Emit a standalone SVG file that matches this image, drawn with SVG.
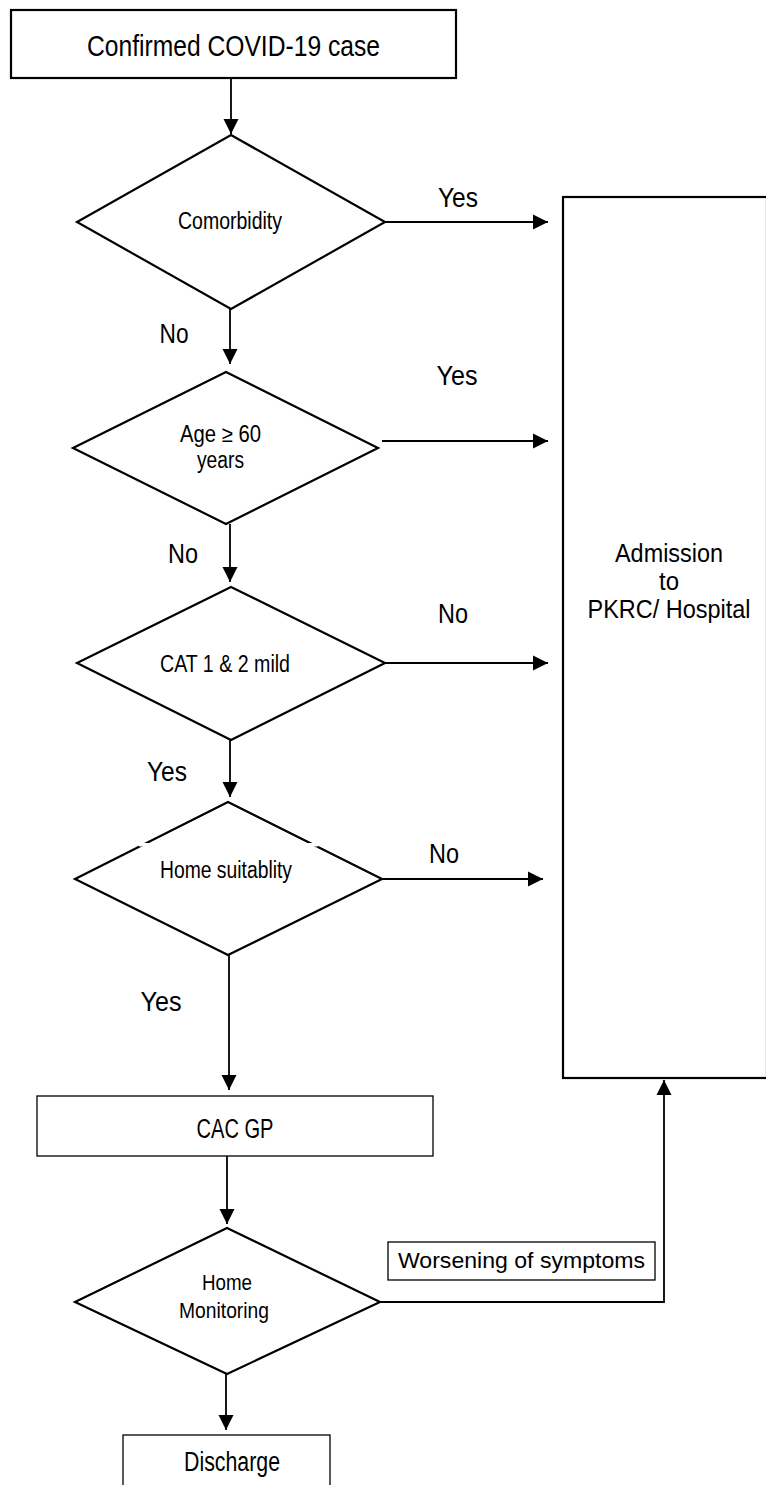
<svg xmlns="http://www.w3.org/2000/svg" width="766" height="1485" viewBox="0 0 766 1485">
  <style>
    .bg { fill: #ffffff; }
    .box { fill: #ffffff; stroke: #000000; stroke-width: 2.2; }
    .thin { fill: #ffffff; stroke: #000000; stroke-width: 1.3; }
    .dia { fill: #ffffff; stroke: #000000; stroke-width: 2.2; stroke-linejoin: miter; }
    .ln { fill: none; stroke: #000000; stroke-width: 1.8; }
    text { font-family: "Liberation Sans Narrow", "Liberation Sans", Arial, sans-serif; fill: #000000; text-anchor: middle; }
    .t29 { font-size: 29px; }
    .t27 { font-size: 27px; }
    .t25 { font-size: 25px; }
    .t23 { font-size: 23px; }
    .t22 { font-size: 22px; }
  </style>
  <defs>
    <marker id="ah" markerUnits="userSpaceOnUse" markerWidth="16" markerHeight="16" viewBox="0 0 16 16" refX="15" refY="8" orient="auto">
      <path d="M0,0.5 L15,8 L0,15.5 Z" fill="#000000"/>
    </marker>
  </defs>

  <rect class="bg" x="0" y="0" width="766" height="1485"/>

  <!-- connectors -->
  <g id="connectors">
    <line class="ln" x1="231" y1="78" x2="231" y2="134" marker-end="url(#ah)"/>
    <line class="ln" x1="230" y1="309" x2="230" y2="364" marker-end="url(#ah)"/>
    <line class="ln" x1="230" y1="524" x2="230" y2="582" marker-end="url(#ah)"/>
    <line class="ln" x1="230" y1="740" x2="230" y2="797" marker-end="url(#ah)"/>
    <line class="ln" x1="229" y1="955" x2="229" y2="1090" marker-end="url(#ah)"/>
    <line class="ln" x1="227" y1="1156" x2="227" y2="1224" marker-end="url(#ah)"/>
    <line class="ln" x1="226" y1="1374" x2="226" y2="1430" marker-end="url(#ah)"/>

    <line class="ln" x1="385" y1="222" x2="548" y2="222" marker-end="url(#ah)"/>
    <line class="ln" x1="382" y1="441" x2="548" y2="441" marker-end="url(#ah)"/>
    <line class="ln" x1="385" y1="663" x2="548" y2="663" marker-end="url(#ah)"/>
    <line class="ln" x1="382" y1="879" x2="543" y2="879" marker-end="url(#ah)"/>

    <polyline class="ln" points="380,1302 664,1302 664,1080" marker-end="url(#ah)"/>

    <text class="t27" x="458" y="207" textLength="40" lengthAdjust="spacingAndGlyphs">Yes</text>
    <text class="t27" x="457" y="385" textLength="41" lengthAdjust="spacingAndGlyphs">Yes</text>
    <text class="t27" x="453" y="623" textLength="30" lengthAdjust="spacingAndGlyphs">No</text>
    <text class="t27" x="444" y="863" textLength="30" lengthAdjust="spacingAndGlyphs">No</text>

    <text class="t27" x="174" y="343" textLength="29" lengthAdjust="spacingAndGlyphs">No</text>
    <text class="t27" x="183" y="563" textLength="30" lengthAdjust="spacingAndGlyphs">No</text>
    <text class="t27" x="167" y="781" textLength="40" lengthAdjust="spacingAndGlyphs">Yes</text>
    <text class="t27" x="161" y="1011" textLength="41" lengthAdjust="spacingAndGlyphs">Yes</text>
  </g>

  <!-- start -->
  <g id="confirmed">
    <rect class="box" x="11" y="10" width="445" height="68"/>
    <text class="t29" x="233.5" y="56" textLength="293" lengthAdjust="spacingAndGlyphs">Confirmed COVID-19 case</text>
  </g>

  <!-- decisions -->
  <g id="comorbidity">
    <polygon class="dia" points="231,135 385,222 231,309 77,222"/>
    <text class="t23" x="230" y="229" textLength="104" lengthAdjust="spacingAndGlyphs">Comorbidity</text>
  </g>

  <g id="age">
    <polygon class="dia" points="226,372 378,448 226,524 73,448"/>
    <text class="t23" x="220.5" y="442" textLength="81" lengthAdjust="spacingAndGlyphs">Age ≥ 60</text>
    <text class="t23" x="220.5" y="468" textLength="47" lengthAdjust="spacingAndGlyphs">years</text>
  </g>

  <g id="cat">
    <polygon class="dia" points="231,587 385,663 231,740 77,663"/>
    <text class="t23" x="225" y="672" textLength="130" lengthAdjust="spacingAndGlyphs">CAT 1 &amp; 2 mild</text>
  </g>

  <g id="home-suitability">
    <polygon class="dia" points="228,802 382,879 228,955 75,879"/>
    <rect x="139" y="843" width="179" height="3.5" fill="#ffffff"/>
    <text class="t23" x="226" y="878" textLength="132" lengthAdjust="spacingAndGlyphs">Home suitablity</text>
  </g>

  <!-- outcomes -->
  <g id="admission">
    <rect class="box" x="563" y="197" width="204" height="881"/>
    <text class="t25" x="669" y="562" textLength="108" lengthAdjust="spacingAndGlyphs">Admission</text>
    <text class="t25" x="669" y="590" textLength="20" lengthAdjust="spacingAndGlyphs">to</text>
    <text class="t25" x="669" y="618" textLength="163" lengthAdjust="spacingAndGlyphs">PKRC/ Hospital</text>
  </g>

  <g id="cac-gp">
    <rect class="thin" x="37" y="1096" width="396" height="60"/>
    <text class="t27" x="235" y="1138" textLength="77" lengthAdjust="spacingAndGlyphs">CAC GP</text>
  </g>

  <g id="home-monitoring">
    <polygon class="dia" points="227,1228 380,1302 227,1374 75,1302"/>
    <text class="t22" x="227" y="1290" textLength="50" lengthAdjust="spacingAndGlyphs">Home</text>
    <text class="t22" x="224" y="1318" textLength="90" lengthAdjust="spacingAndGlyphs">Monitoring</text>
  </g>

  <g id="worsening">
    <rect class="thin" x="388" y="1242" width="267" height="38"/>
    <text class="t22" x="521.5" y="1268" textLength="247" lengthAdjust="spacingAndGlyphs">Worsening of symptoms</text>
  </g>

  <g id="discharge">
    <rect class="thin" x="123" y="1435" width="207" height="52"/>
    <text class="t27" x="232" y="1471" textLength="96" lengthAdjust="spacingAndGlyphs">Discharge</text>
  </g>
</svg>
